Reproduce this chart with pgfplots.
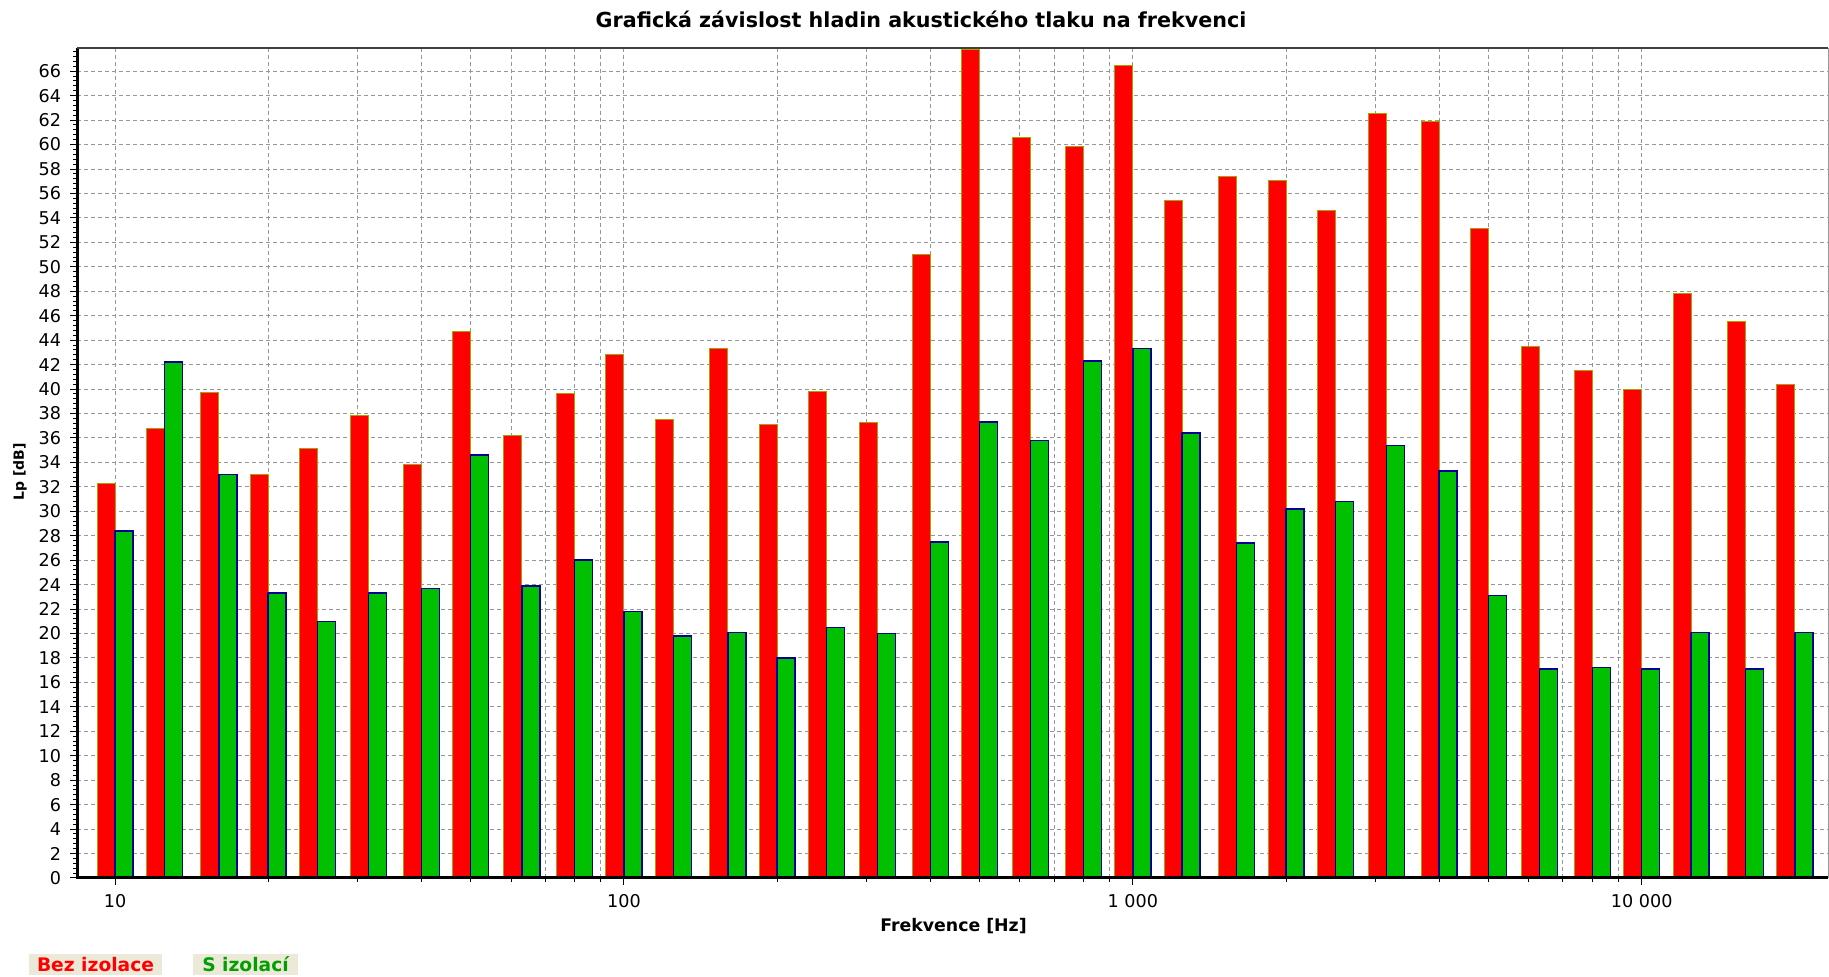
\documentclass[border=0pt]{standalone}
\usepackage{pgfplots}
\usepackage{pgfplotstable}
\pgfplotsset{compat=1.18}
\usepackage{fontspec}
\setmainfont{DejaVu Sans}
\definecolor{barred}{RGB}{255,0,0}
\definecolor{rededge}{RGB}{170,160,0}
\definecolor{bargreen}{RGB}{0,192,0}
\definecolor{greenedge}{RGB}{0,0,150}
\definecolor{gridgray}{RGB}{150,150,150}
\definecolor{legbg}{RGB}{236,233,216}
\definecolor{leggreen}{RGB}{0,160,0}

\pgfplotstableread{
f      red   green
10     32.3  28.4
12.5   36.8  42.2
16     39.7  33.0
20     33.0  23.3
25     35.1  21.0
31.5   37.8  23.3
40     33.8  23.7
50     44.7  34.6
63     36.2  23.9
80     39.6  26.0
100    42.8  21.8
125    37.5  19.8
160    43.3  20.1
200    37.1  18.0
250    39.8  20.5
315    37.3  20.0
400    51.0  27.5
500    67.8  37.3
630    60.6  35.8
800    59.8  42.3
1000   66.5  43.3
1250   55.4  36.4
1600   57.4  27.4
2000   57.1  30.2
2500   54.6  30.8
3150   62.5  35.4
4000   61.9  33.3
5000   53.1  23.1
6300   43.5  17.1
8000   41.5  17.2
10000  40.0  17.1
12500  47.8  20.1
16000  45.5  17.1
20000  40.4  20.1
}\datatable

\begin{document}
\begin{tikzpicture}
\useasboundingbox (-57.75pt,-74.25pt) rectangle (1314pt,658.5pt);
\begin{axis}[
  at={(0pt,0pt)}, anchor=south west,
  scale only axis, width=1313.25pt, height=622.5pt,
  xmode=log, xmin=8.42, xmax=23230, ymin=0, ymax=67.9,
  ybar=0pt, bar width=13.5pt,
  clip=false,
  axis line style={draw=none},
  tick align=outside, xtick pos=bottom, ytick pos=left,
  xtick={10,100,1000,10000}, xticklabels={10,100,1 000,10 000},
  ytick distance=2, minor y tick num=4,
  major tick length=5pt, minor tick length=3pt,
  tick style={black, line width=0.75pt},
  xmajorgrids, xminorgrids, ymajorgrids,
  grid style={gridgray, dash pattern=on 3pt off 2.25pt, line width=0.75pt},
  ticklabel style={font=\fontsize{13.2}{15}\selectfont},
  yticklabel style={xshift=-3.5pt},
  xticklabel style={yshift=-3.5pt},
  /pgf/number format/assume math mode=true,
]
\addplot[fill=barred, draw=rededge, line width=0.75pt] table[x=f, y=red]{\datatable};
\addplot[fill=bargreen, draw=greenedge, line width=1.1pt] table[x=f, y=green]{\datatable};
\draw[black, line width=2.25pt] (rel axis cs:0,1) -- (rel axis cs:0,0) -- (rel axis cs:1,0);
\draw[black!75, line width=1.5pt] (rel axis cs:0,1) -- (rel axis cs:1,1);
\draw[black!40, line width=0.75pt] (rel axis cs:1,0) -- (rel axis cs:1,1);
\end{axis}
\node[font=\bfseries\fontsize{15.5}{19}\selectfont, anchor=base] at (633pt,637.5pt) {Grafická závislost hladin akustického tlaku na frekvenci};
\node[font=\bfseries\fontsize{13}{16}\selectfont, anchor=base] at (657.4pt,-40.5pt) {Frekvence [Hz]};
\node[font=\bfseries\fontsize{10.5}{12}\selectfont, rotate=90] at (-42.75pt,304.5pt) {Lp [dB]};
\node[fill=legbg, text=barred, font=\bfseries\fontsize{14}{16}\selectfont, minimum width=99.75pt, minimum height=15.75pt, inner sep=0pt] at (13.9pt,-64.9pt) {Bez izolace};
\node[fill=legbg, text=leggreen, font=\bfseries\fontsize{14}{16}\selectfont, minimum width=78.75pt, minimum height=15.75pt, inner sep=0pt] at (126.4pt,-64.9pt) {S izolací};
\end{tikzpicture}
\end{document}
